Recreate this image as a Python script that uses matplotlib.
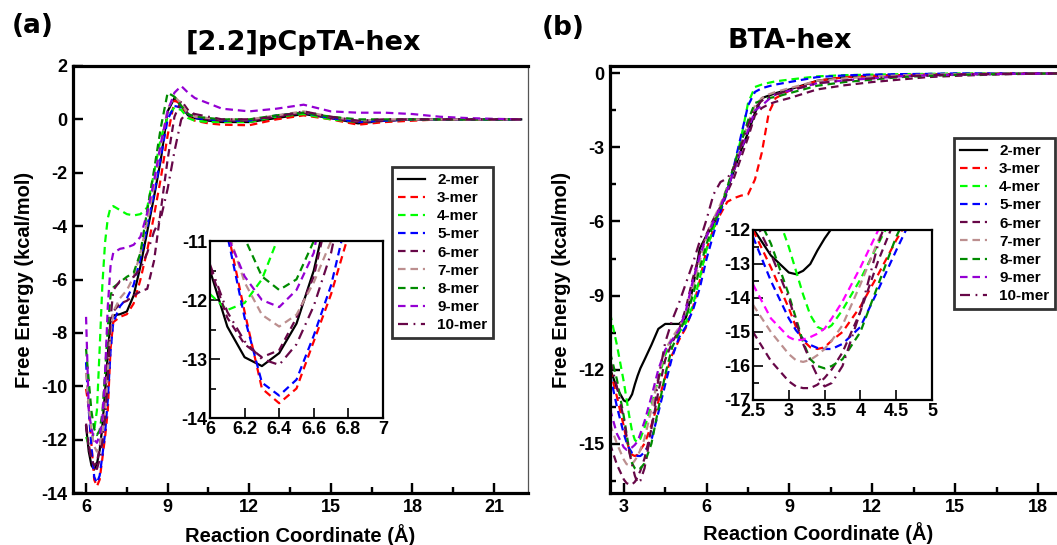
import matplotlib
matplotlib.use("Agg")
import matplotlib.pyplot as plt
from matplotlib.ticker import MultipleLocator
from matplotlib.font_manager import FontProperties

# ---------------- data: [2.2]pCpTA-hex ----------------
pcp_x = [6.0, 6.1, 6.2, 6.3, 6.4, 6.5, 6.6, 6.7, 6.8, 6.9, 7.0, 7.25, 7.5, 7.75,
         8.0, 8.25, 8.5, 8.75, 9.0, 9.25, 9.5, 9.75, 10.0, 10.5, 11, 12, 13, 14,
         15, 16, 17, 18, 19, 20, 21, 22]
pcp_2mer = [-11.5, -12.45, -12.97, -13.12, -12.9, -12.4, -11.5, -10.2, -8.8, -7.5,
            -7.35, -7.3, -7.2, -6.6, -5.5, -4.2, -2.9, -1.5, 0.3, 0.8, 0.5, 0.15,
            0.05, -0.05, -0.1, -0.1, 0.05, 0.2, 0.05, -0.15, -0.05, 0, 0, 0, 0, 0]
pcp_3mer = [-10.1, -10.8, -12.2, -13.5, -13.75, -13.5, -12.7, -11.9, -10.9, -8.6,
            -7.6, -7.4, -7.3, -6.9, -6.0, -4.9, -3.6, -2.2, -0.6, 0.7, 0.6, 0.1,
            -0.05, -0.15, -0.2, -0.22, 0.0, 0.15, 0.0, -0.2, -0.1, -0.05, 0, 0, 0, 0]
pcp_4mer = [-11.9, -12.17, -12.05, -11.65, -10.9, -8.6, -6.2, -4.6, -3.7, -3.3,
            -3.25, -3.4, -3.55, -3.6, -3.55, -3.3, -2.0, -0.7, 0.1, 0.45, 0.35, 0.05,
            -0.05, -0.1, -0.1, -0.1, 0.1, 0.2, 0.0, -0.1, -0.05, 0, 0, 0, 0, 0]
pcp_5mer = [-9.1, -10.9, -12.3, -13.4, -13.62, -13.35, -12.6, -11.75, -10.5, -8.7,
            -7.6, -7.0, -6.7, -6.2, -5.2, -4.0, -2.8, -1.4, 0.0, 0.5, 0.45, 0.2,
            0.05, 0.0, -0.05, -0.05, 0.15, 0.25, 0.05, -0.1, -0.05, 0, 0, 0, 0, 0]
pcp_6mer = [-11.45, -12.3, -12.75, -12.97, -12.85, -12.3, -11.6, -10.3, -9.0, -7.8,
            -7.2, -6.9, -6.8, -6.6, -6.45, -6.35, -5.3, -3.4, -1.5, 0.1, 0.7, 0.35,
            0.1, 0.0, -0.05, -0.05, 0.1, 0.25, 0.05, -0.1, -0.05, 0, 0, 0, 0, 0]
pcp_7mer = [-9.5, -10.8, -11.7, -12.25, -12.45, -12.25, -11.7, -11.0, -9.5, -8.0,
            -7.2, -6.7, -6.4, -5.9, -5.0, -3.8, -2.5, -1.0, 0.4, 0.85, 0.6, 0.2,
            0.1, 0.05, 0.0, 0.0, 0.15, 0.3, 0.1, -0.05, 0, 0, 0, 0, 0, 0]
pcp_8mer = [-8.6, -9.8, -10.95, -11.6, -11.83, -11.65, -11.0, -9.5, -7.8, -6.6,
            -6.3, -6.1, -5.9, -5.75, -5.0, -3.4, -1.9, -0.3, 1.0, 0.85, 0.5, 0.2,
            0.1, 0.05, 0.0, 0.0, 0.15, 0.25, 0.1, 0.0, 0, 0, 0, 0, 0, 0]
pcp_9mer = [-7.4, -10.9, -11.6, -12.0, -12.12, -11.83, -11.2, -9.5, -7.0, -5.5,
            -5.0, -4.85, -4.8, -4.7, -4.4, -3.5, -2.3, -0.9, 0.3, 1.0, 1.25, 1.0,
            0.8, 0.6, 0.4, 0.3, 0.4, 0.55, 0.3, 0.25, 0.25, 0.2, 0.1, 0.05, 0.02, 0]
pcp_10mer = [-11.4, -12.2, -12.7, -13.0, -13.1, -12.75, -12.1, -11.2, -9.8, -7.5,
             -6.4, -6.05, -6.0, -5.9, -5.6, -5.0, -4.2, -3.7, -2.6, -1.2, 0.0, 0.3,
             0.2, 0.1, 0.0, 0.0, 0.1, 0.3, 0.1, -0.05, 0, 0, 0, 0, 0, 0]

# ---------------- data: BTA-hex ----------------
bta_x = [2.5, 2.75, 3.0, 3.1, 3.2, 3.3, 3.4, 3.5, 3.6, 3.75, 4.0, 4.25, 4.5, 4.75,
         5.0, 5.25, 5.5, 5.75, 6.0, 6.25, 6.5, 6.75, 7.0, 7.25, 7.5, 7.75, 8.0,
         8.25, 8.5, 9.0, 10, 11, 12, 13, 14, 15, 16, 17, 18.75]
bta_2mer = [-11.95, -12.75, -13.25, -13.3, -13.2, -13.0, -12.6, -12.25, -11.95, -11.6,
            -11.0, -10.35, -10.15, -10.15, -10.15, -9.9, -8.7, -7.1, -6.55, -6.1,
            -5.5, -4.7, -3.9, -3.1, -2.4, -1.6, -1.0, -0.9, -0.8, -0.65, -0.3,
            -0.15, -0.1, -0.07, -0.05, -0.03, -0.02, -0.01, 0]
bta_3mer = [-12.0, -13.1, -14.3, -14.85, -15.25, -15.45, -15.5, -15.45, -15.25, -15.0,
            -14.25, -13.3, -12.3, -11.4, -10.8, -10.3, -9.5, -8.4, -7.1, -6.3,
            -5.7, -5.2, -5.05, -4.95, -4.9, -4.3, -3.2, -1.6, -1.0, -0.7, -0.3,
            -0.15, -0.1, -0.07, -0.05, -0.03, -0.02, 0, 0]
bta_4mer = [-9.7, -11.0, -12.5, -13.2, -13.9, -14.5, -14.85, -14.95, -14.8, -14.35,
            -13.45, -12.4, -11.4, -10.8, -10.5, -10.1, -9.4, -8.3, -7.1, -6.3,
            -5.4, -4.6, -3.8, -2.6, -1.2, -0.55, -0.45, -0.38, -0.32, -0.25, -0.12,
            -0.07, -0.05, -0.03, -0.02, 0, 0, 0, 0]
bta_5mer = [-12.2, -13.5, -14.6, -14.95, -15.2, -15.38, -15.47, -15.5, -15.5, -15.35,
            -14.85, -13.75, -12.6, -11.5, -10.7, -10.25, -9.6, -8.7, -7.5, -6.5,
            -5.6, -4.8, -3.7, -2.5, -1.3, -0.75, -0.6, -0.52, -0.45, -0.35, -0.15,
            -0.08, -0.05, -0.03, -0.02, 0, 0, 0, 0]
bta_6mer = [-15.0, -15.85, -16.45, -16.6, -16.65, -16.65, -16.55, -16.35, -16.1, -15.6,
            -14.4, -12.9, -11.6, -10.9, -10.4, -9.5, -8.3, -7.3, -6.5, -5.9,
            -5.4, -4.8, -4.2, -3.4, -2.6, -1.7, -1.4, -1.25, -1.15, -1.0, -0.65,
            -0.48, -0.35, -0.25, -0.15, -0.1, -0.06, -0.03, 0]
bta_7mer = [-14.2, -15.0, -15.65, -15.83, -15.88, -15.82, -15.68, -15.5, -15.25, -14.8,
            -13.6, -12.3, -11.2, -10.7, -10.3, -9.7, -8.7, -7.6, -6.6, -5.9,
            -5.3, -4.6, -3.8, -2.9, -2.0, -1.3, -1.0, -0.85, -0.75, -0.6, -0.3,
            -0.2, -0.13, -0.08, -0.05, -0.03, -0.02, 0, 0]
bta_8mer = [-11.3, -12.4, -13.9, -14.6, -15.3, -15.8, -16.0, -16.07, -16.0, -15.8,
            -15.0, -13.6, -12.2, -11.1, -10.5, -9.9, -9.0, -7.9, -6.9, -6.1,
            -5.5, -4.6, -3.7, -2.8, -1.9, -1.2, -1.1, -1.0, -0.95, -0.8, -0.5,
            -0.35, -0.25, -0.15, -0.1, -0.06, -0.04, -0.02, 0]
bta_9mer = [-13.6, -14.6, -15.15, -15.25, -15.22, -15.15, -15.05, -14.9, -14.6, -14.1,
            -13.1, -12.0, -11.2, -10.8, -10.4, -9.6, -8.4, -7.4, -6.6, -6.0,
            -5.4, -4.7, -3.9, -3.1, -2.3, -1.5, -1.3, -1.05, -0.85, -0.7, -0.4,
            -0.28, -0.2, -0.12, -0.08, -0.05, -0.03, -0.02, 0]
bta_10mer = [-11.6, -12.7, -14.0, -14.7, -15.35, -15.85, -16.3, -16.6, -16.5, -16.0,
             -14.4, -12.4, -10.9, -10.0, -9.3, -8.5, -7.7, -6.8, -5.9, -4.9,
             -4.4, -4.25, -3.8, -2.9, -2.1, -1.4, -1.1, -0.95, -0.85, -0.7, -0.4,
             -0.28, -0.2, -0.12, -0.08, -0.05, -0.03, -0.02, 0]

labels = ["2-mer", "3-mer", "4-mer", "5-mer", "6-mer", "7-mer", "8-mer", "9-mer", "10-mer"]
pcp_series = [pcp_2mer, pcp_3mer, pcp_4mer, pcp_5mer, pcp_6mer, pcp_7mer, pcp_8mer, pcp_9mer, pcp_10mer]
bta_series = [bta_2mer, bta_3mer, bta_4mer, bta_5mer, bta_6mer, bta_7mer, bta_8mer, bta_9mer, bta_10mer]

# ---------------- styles ----------------
colors = ["#000000", "#ff0000", "#00ff00", "#0000ff", "#670748",
          "#bc8f8f", "#008b00", "#9400d3", "#670748"]
dashed = (0, (3.4, 2.2))
dashdot = (0, (4.5, 2.5, 0.8, 2.5))
styles = ["-", dashed, dashed, dashed, dashed, dashed, dashed, dashed, dashdot]

W, H = 1057, 545
fig = plt.figure(figsize=(W / 100, H / 100), dpi=100)

tick_font = FontProperties(family="Liberation Sans", weight="bold", size=13)
label_font = FontProperties(family="Liberation Sans", weight="bold", size=14.5)
legend_font = FontProperties(family="Liberation Sans", weight="bold", size=11)
title_font = FontProperties(family="DejaVu Sans", weight="bold", size=19.5)
panel_font = FontProperties(family="DejaVu Sans", weight="bold", size=19)


def px_box(left, top, right, bottom):
    return [left / W, 1 - bottom / H, (right - left) / W, (bottom - top) / H]


def style_axes(ax, spine_w, maj_len, min_len):
    for s in ax.spines.values():
        s.set_linewidth(spine_w)
    ax.tick_params(which="both", direction="in", width=spine_w * 0.75,
                   top=False, right=False)
    ax.tick_params(which="major", length=maj_len, pad=4)
    ax.tick_params(which="minor", length=min_len)
    for lab in ax.get_xticklabels() + ax.get_yticklabels():
        lab.set_fontproperties(tick_font)


def draw(ax, x, series, override=None):
    for i, (y, c, ls, lab) in enumerate(zip(series, colors, styles, labels)):
        if override and i in override:
            c = override[i]
        ax.plot(x, y, color=c, linestyle=ls, lw=1.6, label=lab)


def fmt(v, pos):
    return "%g" % v


def add_legend(ax, left, top):
    leg = ax.legend(loc="upper left", bbox_to_anchor=(left / W, 1 - top / H),
                    bbox_transform=fig.transFigure, prop=legend_font, frameon=True,
                    fancybox=False, edgecolor="black", handlelength=1.75,
                    handletextpad=0.8, labelspacing=0.27, borderpad=0.4,
                    borderaxespad=0)
    leg.get_frame().set_linewidth(2.0)
    leg.set_zorder(20)
    return leg


# ---------------- panel (a) ----------------
axa = fig.add_axes(px_box(73, 66, 528, 493))
draw(axa, pcp_x, pcp_series)
axa.set_xlim(5.52, 22.25)
axa.set_ylim(-14, 2)
axa.xaxis.set_major_locator(MultipleLocator(3))
axa.xaxis.set_minor_locator(MultipleLocator(1.5))
axa.yaxis.set_major_locator(MultipleLocator(2))
axa.xaxis.set_major_formatter(fmt)
axa.yaxis.set_major_formatter(fmt)
style_axes(axa, 2.3, 7, 4)
axa.spines["right"].set_linewidth(0.9)
axa.spines["right"].set_color("#555555")
axa.set_xlabel("Reaction Coordinate (Å)", fontproperties=label_font, labelpad=6)
axa.set_ylabel("Free Energy (kcal/mol)", fontproperties=label_font, labelpad=5)
add_legend(axa, 392, 167)

ina = fig.add_axes(px_box(210, 241, 383, 418))
ina.set_zorder(10)
draw(ina, pcp_x, pcp_series)
ina.set_xlim(6, 7)
ina.set_ylim(-14, -11)
ina.xaxis.set_major_locator(MultipleLocator(0.2))
ina.yaxis.set_major_locator(MultipleLocator(1))
ina.yaxis.set_minor_locator(MultipleLocator(0.5))
ina.xaxis.set_major_formatter(fmt)
ina.yaxis.set_major_formatter(fmt)
style_axes(ina, 1.6, 7, 4)
ina.tick_params(which="major", pad=2)

# ---------------- panel (b) ----------------
axb = fig.add_axes(px_box(610, 66, 1058.7, 493))
draw(axb, bta_x, bta_series)
axb.set_xlim(2.5, 18.75)
axb.set_ylim(-17, 0.3)
axb.xaxis.set_major_locator(MultipleLocator(3))
axb.xaxis.set_minor_locator(MultipleLocator(1.5))
axb.yaxis.set_major_locator(MultipleLocator(3))
axb.yaxis.set_minor_locator(MultipleLocator(1.5))
axb.xaxis.set_major_formatter(fmt)
axb.yaxis.set_major_formatter(fmt)
style_axes(axb, 2.3, 7, 4)
axb.set_ylabel("Free Energy (kcal/mol)", fontproperties=label_font, labelpad=5)
add_legend(axb, 954, 138)

inb = fig.add_axes(px_box(753, 230, 932, 400))
inb.set_zorder(10)
draw(inb, bta_x, bta_series, override={7: "#ff00ff"})
inb.set_xlim(2.5, 5)
inb.set_ylim(-17, -12)
inb.xaxis.set_major_locator(MultipleLocator(0.5))
inb.yaxis.set_major_locator(MultipleLocator(1))
inb.yaxis.set_minor_locator(MultipleLocator(0.5))
inb.xaxis.set_major_formatter(fmt)
inb.yaxis.set_major_formatter(fmt)
style_axes(inb, 1.6, 7, 4)
inb.tick_params(which="major", pad=2)

# ---------------- headings and shared labels ----------------
fig.text(818 / W, 1 - 533 / H, "Reaction Coordinate (Å)", fontproperties=label_font,
         ha="center", va="center")
fig.text(33 / W, 1 - 26 / H, "(a)", fontproperties=panel_font, ha="center", va="center")
fig.text(303 / W, 1 - 43 / H, "[2.2]pCpTA-hex", fontproperties=title_font,
         ha="center", va="center")
fig.text(563 / W, 1 - 28 / H, "(b)", fontproperties=panel_font, ha="center", va="center")
fig.text(790 / W, 1 - 41 / H, "BTA-hex", fontproperties=title_font, ha="center", va="center")

fig.savefig("out.png", dpi=100)
